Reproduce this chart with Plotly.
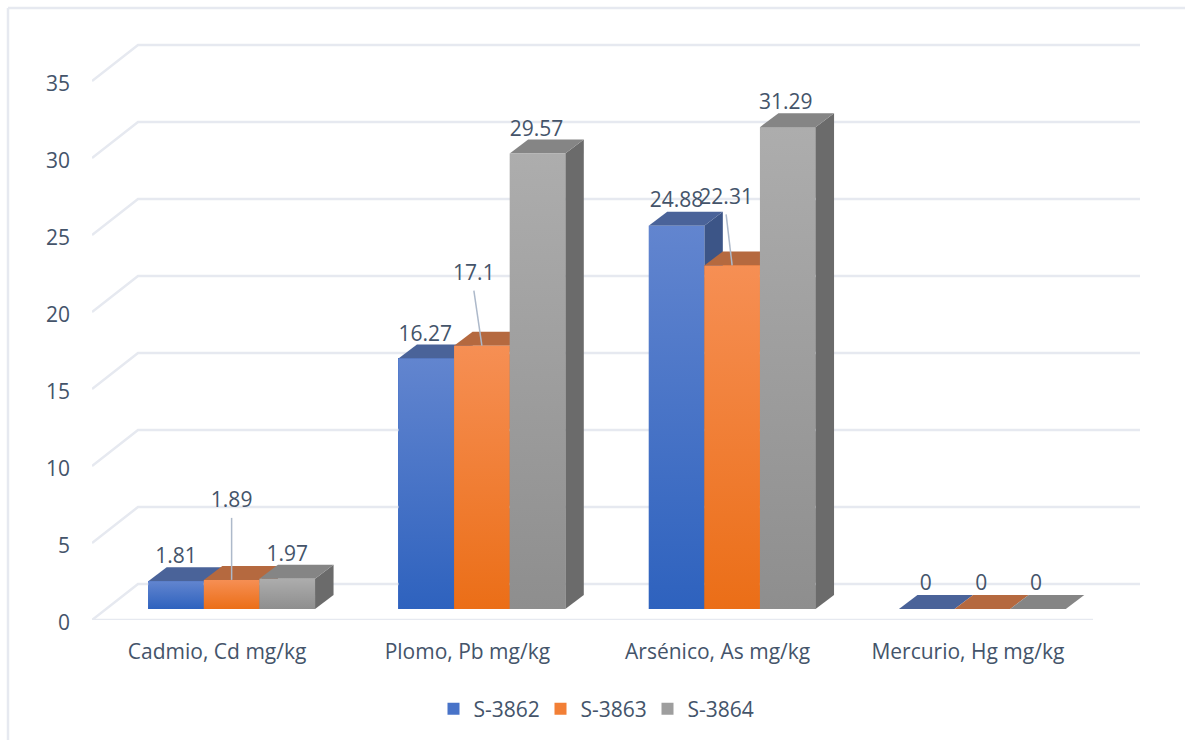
import plotly.graph_objects as go

# Chart data
categories = ["Cadmio, Cd mg/kg", "Plomo, Pb mg/kg", "Arsénico, As mg/kg", "Mercurio, Hg mg/kg"]
series_names = ["S-3862", "S-3863", "S-3864"]
s3862 = [1.81, 16.27, 24.88, 0]
s3863 = [1.89, 17.1, 22.31, 0]
s3864 = [1.97, 29.57, 31.29, 0]
y_ticks = [0, 5, 10, 15, 20, 25, 30, 35]

# Face colours per series
front_top = ["#6285CF", "#F68F54", "#ADADAD"]
front_bottom = ["#2E62BE", "#EB6E17", "#8E8E8E"]
front_flat = ["#4873C8", "#F27F36", "#9E9E9E"]
top_face = ["#4A6399", "#B5693F", "#858585"]
side_face = ["#3C5587", "#8E5230", "#6B6B6B"]

TEXT = "#44546A"
GRID = "#E6E9F0"
LEADER = "#ADB9CA"
FONT = "Open Sans"
FONT_SIZE = 21

# Pixel scale of the drawing area
CAT_PX = 250.25
VAL_PX = 15.4
PLOT_L, PLOT_R, PLOT_T, PLOT_B = 92, 1140, 40, 620
to_x = lambda px: px / CAT_PX
to_y = lambda px: px / VAL_PX

# Depth of the floor and walls, and placement of the columns within that depth
WALL_DX, WALL_DY = to_x(46), to_y(36)
BAR_W = 1 / 4.5
BAR_DX, BAR_DY = to_x(18.5), to_y(14)
BAR_SHIFT_X, BAR_BASE = to_x(14.5), to_y(11)

# Data label offsets from the middle of each column's front top edge, in pixels
label_dx = [[0, -1, 0, -1], [0, -8, -6, -1], [0, -1, -2, -2]]
label_dy = [[23, 23, 24, 24], [78, 71, 67, 24], [23, 23, 23, 24]]
has_leader = [[False] * 4, [True, True, True, False], [False] * 4]

x_min = -0.5
x_max = x_min + (PLOT_R - PLOT_L) / CAT_PX
y_max = (PLOT_B - PLOT_T) / VAL_PX

fig = go.Figure()

# Walls: a diagonal on the side wall and a long line on the back wall per tick
for t in y_ticks:
    fig.add_trace(go.Scatter(
        x=[x_min, x_min + WALL_DX, x_max], y=[t, t + WALL_DY, t + WALL_DY],
        mode="lines", line=dict(color=GRID, width=2.5), showlegend=False, hoverinfo="skip"))
# Floor front edge
fig.add_trace(go.Scatter(
    x=[x_min, len(categories) + x_min], y=[0, 0],
    mode="lines", line=dict(color=GRID, width=2.5), showlegend=False, hoverinfo="skip",
    cliponaxis=False))

all_series = [s3862, s3863, s3864]

# Flat front faces through the bar scale; these carry the legend entries
for i, (name, vals) in enumerate(zip(series_names, all_series)):
    fig.add_trace(go.Bar(
        x=[c + BAR_SHIFT_X + (i - 1) * BAR_W for c in range(len(vals))],
        y=vals, base=[BAR_BASE] * len(vals), width=BAR_W, name=name,
        marker=dict(color=front_flat[i], line=dict(width=0))))


def polygon(xs, ys, **kw):
    fig.add_trace(go.Scatter(
        x=xs + xs[:1], y=ys + ys[:1], mode="lines", fill="toself",
        line=dict(width=0), showlegend=False, hoverinfo="skip", **kw))


# Side, top and shaded front of every column, series by series from left to right
for c in range(len(categories)):
    for i, vals in enumerate(all_series):
        v = vals[c]
        x0 = c + BAR_SHIFT_X + (i - 1.5) * BAR_W
        x1 = x0 + BAR_W
        y0 = BAR_BASE
        y1 = BAR_BASE + v
        if v > 0:
            polygon([x1, x1 + BAR_DX, x1 + BAR_DX, x1],
                    [y0, y0 + BAR_DY, y1 + BAR_DY, y1], fillcolor=side_face[i])
        polygon([x0, x1, x1 + BAR_DX, x0 + BAR_DX],
                [y1, y1, y1 + BAR_DY, y1 + BAR_DY], fillcolor=top_face[i])
        if v > 0:
            polygon([x0, x1, x1, x0], [y0, y0, y1, y1],
                    fillgradient=dict(type="vertical", start=y0, stop=y1,
                                      colorscale=[[0, front_bottom[i]], [1, front_top[i]]]))

# Leader lines and value labels
for i, vals in enumerate(all_series):
    xs, ys, txt = [], [], []
    for c, v in enumerate(vals):
        xc = c + BAR_SHIFT_X + (i - 1) * BAR_W
        top = BAR_BASE + v
        lx = xc + to_x(label_dx[i][c])
        ly = top + to_y(label_dy[i][c])
        xs.append(lx)
        ys.append(ly)
        txt.append(str(v))
        if has_leader[i][c]:
            fig.add_trace(go.Scatter(
                x=[lx, xc], y=[ly - to_y(16), top], mode="lines",
                line=dict(color=LEADER, width=1.5), showlegend=False, hoverinfo="skip"))
    fig.add_trace(go.Scatter(
        x=xs, y=ys, mode="text", text=txt, textposition="middle center",
        textfont=dict(family=FONT, size=FONT_SIZE, color=TEXT), showlegend=False, hoverinfo="skip"))

# Chart frame along the left and top edges
pw = PLOT_R - PLOT_L
ph = PLOT_B - PLOT_T
frame_x = (8 - PLOT_L) / pw
frame_y = 1 + (PLOT_T - 8) / ph
frame_line = dict(color=GRID, width=2.5)
fig.add_shape(type="line", xref="paper", yref="paper", x0=frame_x, x1=frame_x,
              y0=(PLOT_B - 740) / ph, y1=frame_y, line=frame_line)
fig.add_shape(type="line", xref="paper", yref="paper", x0=frame_x, x1=(1185 - PLOT_L) / pw,
              y0=frame_y, y1=frame_y, line=frame_line)

fig.update_layout(
    width=1185, height=742, autosize=False,
    margin=dict(l=PLOT_L, r=1185 - PLOT_R, t=PLOT_T, b=742 - PLOT_B),
    paper_bgcolor="white", plot_bgcolor="white",
    barmode="overlay", bargap=0,
    font=dict(family=FONT, size=FONT_SIZE, color=TEXT),
    xaxis=dict(range=[x_min, x_max], tickmode="array", tickvals=list(range(len(categories))),
               ticktext=categories, showgrid=False, zeroline=False, showline=False,
               ticks="", ticklabelstandoff=17, tickfont=dict(family=FONT, size=FONT_SIZE, color=TEXT)),
    yaxis=dict(range=[0, y_max], tickmode="array", tickvals=y_ticks, showgrid=False,
               zeroline=False, showline=False, ticks="", ticklabelstandoff=21, ticklabelshift=3,
               tickfont=dict(family=FONT, size=FONT_SIZE, color=TEXT)),
    legend=dict(orientation="h", xref="container", yref="container",
                x=594 / 1185, xanchor="center", y=33 / 742, yanchor="middle",
                entrywidth=62, entrywidthmode="pixels",
                font=dict(family=FONT, size=FONT_SIZE, color=TEXT), itemclick=False, itemdoubleclick=False),
)

fig.write_html("out.html", config=dict(displayModeBar=False))
